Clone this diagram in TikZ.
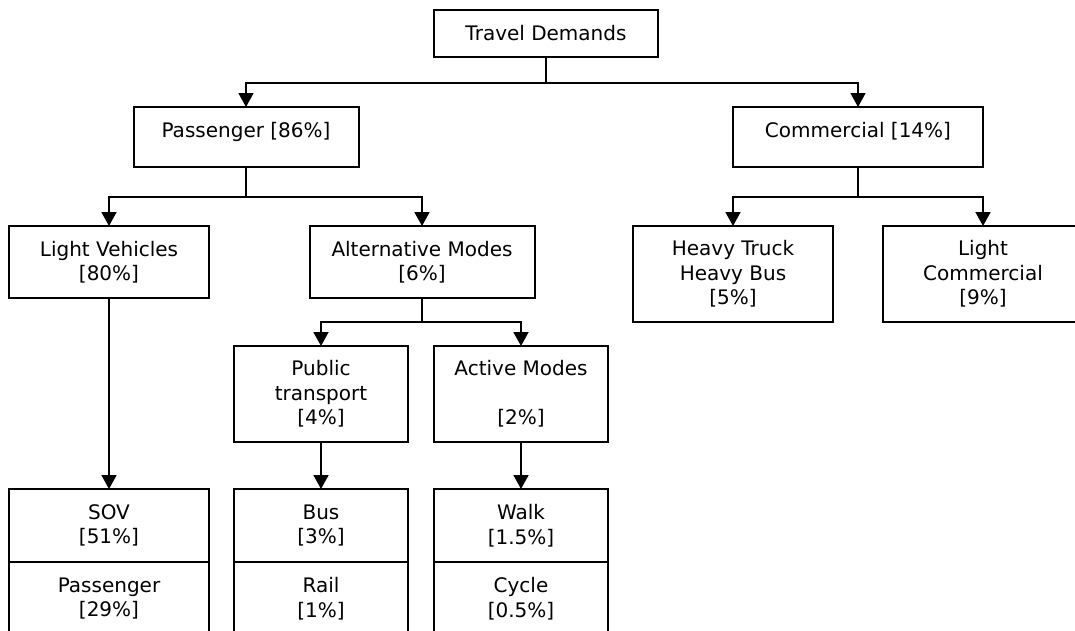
\documentclass[tikz,border=0pt]{standalone}
\usepackage{fontspec}
\setmainfont{DejaVu Sans}
\usetikzlibrary{arrows.meta,positioning}

\begin{document}
\begin{tikzpicture}[x=1pt,y=-1pt,
  box/.style={draw,line width=2pt,inner sep=0pt,outer sep=0pt,align=center,
    font=\fontsize{20}{24.5}\selectfont},
  headbox/.style={box,text height=12pt,text depth=12pt},
  arr/.style={line width=1.7pt,-{Triangle[width=15pt,length=14pt]}}]
\useasboundingbox (0,0) rectangle (1075,630);
\fill[white] (0,0) rectangle (1075,630);
\clip (0,0) rectangle (1075,630);
\node[box,minimum width=224pt,minimum height=47pt] (td) at (546,33.5) {Travel Demands};
\node[headbox,minimum width=225pt,minimum height=60pt] (pass) at (246,137) {Passenger [86\%]};
\node[headbox,minimum width=250pt,minimum height=60pt] (comm) at (858,137) {Commercial [14\%]};
\node[box,minimum width=200pt,minimum height=72pt] (lv) at (109,262) {Light Vehicles\\{[80\%]}};
\node[box,minimum width=225pt,minimum height=72pt] (alt) at (422,262) {Alternative Modes\\{[6\%]}};
\node[box,minimum width=200pt,minimum height=96pt] (heavy) at (733,274) {Heavy Truck\\Heavy Bus\\{[5\%]}};
\node[box,minimum width=200pt,minimum height=96pt] (lcom) at (983,274) {Light\\Commercial\\{[9\%]}};
\node[box,minimum width=174pt,minimum height=96pt] (pt) at (321,394) {Public\\transport\\{[4\%]}};
\node[box,minimum width=174pt,minimum height=96pt] (act) at (521,394) {Active Modes\\[24.5pt]{[2\%]}};
\node[box,minimum width=200pt,minimum height=73pt] (sov) at (109,525.5) {SOV\\{[51\%]}};
\node[box,minimum width=200pt,minimum height=73pt,below=0pt of sov] (paxcar) {Passenger\\{[29\%]}};
\node[box,minimum width=174pt,minimum height=73pt] (bus) at (321,525.5) {Bus\\{[3\%]}};
\node[box,minimum width=174pt,minimum height=73pt,below=0pt of bus] (rail) {Rail\\{[1\%]}};
\node[box,minimum width=174pt,minimum height=73pt] (walk) at (521,525.5) {Walk\\{[1.5\%]}};
\node[box,minimum width=174pt,minimum height=73pt,below=0pt of walk] (cycle) {Cycle\\{[0.5\%]}};
\draw[arr] (td.south) -- ++(0,26) -| (pass.north);
\draw[arr] (td.south) -- ++(0,26) -| (comm.north);
\draw[arr] (pass.south) -- ++(0,30) -| (lv.north);
\draw[arr] (pass.south) -- ++(0,30) -| (alt.north);
\draw[arr] (comm.south) -- ++(0,30) -| (heavy.north);
\draw[arr] (comm.south) -- ++(0,30) -| (lcom.north);
\draw[arr] (alt.south) -- ++(0,24) -| (pt.north);
\draw[arr] (alt.south) -- ++(0,24) -| (act.north);
\draw[arr] (lv) -- (sov);
\draw[arr] (pt) -- (bus);
\draw[arr] (act) -- (walk);
\end{tikzpicture}
\end{document}
